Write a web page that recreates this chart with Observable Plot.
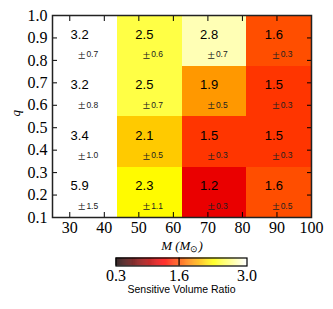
<!DOCTYPE html>
<html><head><meta charset="utf-8">
<script src="https://cdn.jsdelivr.net/npm/d3@7"></script>
<script src="https://cdn.jsdelivr.net/npm/@observablehq/plot@0.6"></script>
<style>body{margin:0;background:#fff;} #chart svg{display:block;}</style>
</head><body><div id="chart"></div>
<script>
// Bin edges
const massEdges = [25, 43.75, 62.5, 81.25, 100];
const qEdges = [0.1, 0.325, 0.55, 0.775, 1.0];
// Sensitive volume ratio, rows = q bins (low to high), columns = M bins (low to high)
const ratios = [
  [5.9, 2.3, 1.2, 1.6],
  [3.4, 2.1, 1.5, 1.5],
  [3.2, 2.5, 1.9, 1.5],
  [3.2, 2.5, 2.8, 1.6]
];
const errors = [
  [1.5, 1.1, 0.3, 0.5],
  [1.0, 0.5, 0.3, 0.3],
  [0.8, 0.7, 0.5, 0.3],
  [0.7, 0.6, 0.7, 0.3]
];
const xTicks = [30, 40, 50, 60, 70, 80, 90, 100];
const yTicks = [0.1, 0.2, 0.3, 0.4, 0.5, 0.6, 0.7, 0.8, 0.9, 1.0];
const cbarDomain = [0.3, 3.0];
const cbarTicks = [0.3, 1.6, 3.0];
const xLabel = "M (M⊙)";
const yLabel = "q";
const cbarLabel = "Sensitive Volume Ratio";

const cells = [];
ratios.forEach((row, i) => row.forEach((v, j) => cells.push({
  x1: massEdges[j], x2: massEdges[j + 1], y1: qEdges[i], y2: qEdges[i + 1],
  xm: (massEdges[j] + massEdges[j + 1]) / 2, ym: (qEdges[i] + qEdges[i + 1]) / 2,
  v, e: errors[i][j]
})));

// matplotlib "hot" colormap
function hot(t) {
  t = Math.max(0, Math.min(1, t));
  const a = 0.365079, b = 0.746032;
  const r = t < a ? 0.0416 + (1 - 0.0416) * t / a : 1;
  const g = t < a ? 0 : t < b ? (t - a) / (b - a) : 1;
  const bl = t < b ? 0 : (t - b) / (1 - b);
  return d3.rgb(r * 255, g * 255, bl * 255).toString();
}
const colorOpts = {type: "linear", domain: cbarDomain, interpolate: hot, clamp: true};

const main = Plot.plot({
  width: 333, height: 256,
  marginLeft: 52, marginRight: 22, marginTop: 15, marginBottom: 39,
  style: {fontFamily: "Liberation Serif", fontSize: "16px", background: "white"},
  x: {domain: [25, 100], label: null},
  y: {domain: [0.1, 1.0], label: null},
  color: colorOpts,
  marks: [
    Plot.rect(cells, {x1: "x1", x2: "x2", y1: "y1", y2: "y2", fill: "v", shapeRendering: "crispEdges"}),
    Plot.text(cells, {x: "xm", y: "ym", text: d => d.v.toFixed(1), dx: -5.3, dy: -6, fontSize: 13, fontFamily: "Liberation Sans", fill: "black"}),
    Plot.text(cells, {x: "xm", y: "ym", text: () => "±", textAnchor: "end", dx: 0.5, dy: 13.5, fontSize: 13.5, fontFamily: "Liberation Serif", fill: "#222"}),
    Plot.text(cells, {x: "xm", y: "ym", text: d => d.e.toFixed(1), textAnchor: "start", dx: 1.5, dy: 14, fontSize: 8.5, fontFamily: "Liberation Sans", fill: "#222"}),
    Plot.axisX({anchor: "bottom", ticks: xTicks, tickSize: -5, fill: "none", label: null}),
    Plot.axisX({anchor: "top", ticks: xTicks, tickSize: -5, fill: "none", label: null}),
    Plot.axisY({anchor: "left", ticks: yTicks, tickSize: -5, fill: "none", label: null}),
    Plot.axisY({anchor: "right", ticks: yTicks, tickSize: -5, fill: "none", label: null}),
    Plot.axisX({anchor: "bottom", ticks: xTicks, tickSize: 0, tickPadding: 4.5, label: null}),
    Plot.axisY({anchor: "left", ticks: yTicks, tickSize: 0, tickPadding: 5, tickFormat: ".1f", label: null}),
    Plot.frame({stroke: "#222", strokeWidth: 1.5}),
    Plot.text([yLabel], {frameAnchor: "left", text: d => d, rotate: -90, dx: -37, fontStyle: "italic", fontSize: 13}),
    Plot.text([xLabel], {frameAnchor: "bottom", text: d => d, dy: 32, fontStyle: "italic", fontSize: 13})
  ]
});

const cbSteps = d3.range(0, 270).map(i => cbarDomain[0] + i * 0.01);
const cbar = Plot.plot({
  width: 333, height: 53,
  marginLeft: 115.5, marginRight: 86.5, marginTop: 1.5, marginBottom: 43.5,
  style: {fontFamily: "Liberation Serif", fontSize: "16px", background: "white"},
  x: {domain: cbarDomain, label: null},
  color: colorOpts,
  marks: [
    Plot.rect(cbSteps, {x1: d => d, x2: d => d + 0.012, fill: d => d + 0.005}),
    Plot.ruleX([cbarTicks[1]], {stroke: "black", strokeWidth: 1.2}),
    Plot.frame({stroke: "black", strokeWidth: 1.2}),
    Plot.axisX({ticks: cbarTicks, tickSize: 0, tickPadding: 4, tickFormat: ".1f", label: null}),
    Plot.text([cbarLabel], {frameAnchor: "bottom", text: d => d, dy: 27, fontFamily: "Liberation Sans", fontSize: 10.5})
  ]
});

const root = document.getElementById("chart");
root.appendChild(main);
root.appendChild(cbar);

// subscript the solar symbol in the x label
d3.select(main).selectAll("text").filter(function() { return this.textContent === xLabel; })
  .each(function() {
    const t = d3.select(this);
    t.text("");
    t.append("tspan").text("M (M");
    t.append("tspan").attr("font-size", 9).attr("font-style", "normal").attr("dy", 2.5).text("⊙");
    t.append("tspan").attr("dy", -2.5).text(")");
  });
</script>
</body></html>
